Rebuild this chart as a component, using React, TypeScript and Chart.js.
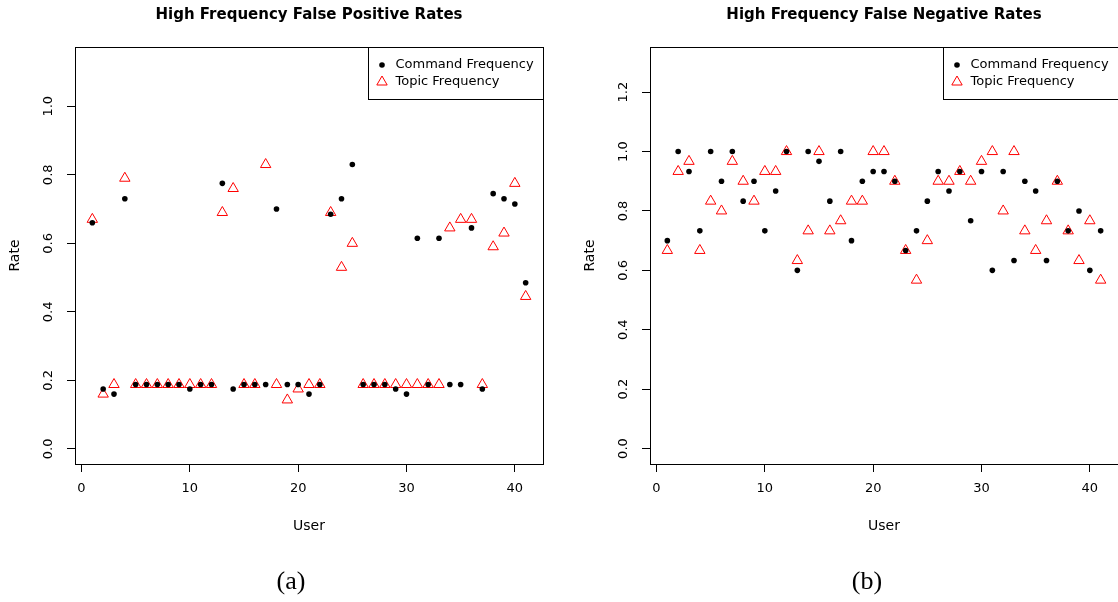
import React, { useEffect, useRef } from "react";
import { Chart, registerables } from "chart.js";

Chart.register(...registerables);

// ---------------- data ----------------
const users = [
  1, 2, 3, 4, 5, 6, 7, 8, 9, 10, 11, 12, 13, 14, 15, 16, 17, 18, 19, 20, 21,
  22, 23, 24, 25, 26, 27, 28, 29, 30, 31, 32, 33, 34, 35, 36, 37, 38, 39, 40, 41,
];

const fpCommand = [
  0.66, 0.175, 0.16, 0.73, 0.188, 0.188, 0.188, 0.188, 0.188, 0.175,
  0.188, 0.188, 0.775, 0.175, 0.188, 0.188, 0.188, 0.7, 0.188, 0.188,
  0.16, 0.188, 0.685, 0.73, 0.83, 0.188, 0.188, 0.188, 0.175, 0.16,
  0.615, 0.188, 0.615, 0.188, 0.188, 0.645, 0.175, 0.745, 0.73, 0.715, 0.485,
];
const fpTopic = [
  0.67, 0.16, 0.188, 0.79, 0.188, 0.188, 0.188, 0.188, 0.188, 0.188,
  0.188, 0.188, 0.69, 0.76, 0.188, 0.188, 0.83, 0.188, 0.143, 0.175,
  0.188, 0.188, 0.69, 0.53, 0.6, 0.188, 0.188, 0.188, 0.188, 0.188,
  0.188, 0.188, 0.188, 0.645, 0.67, 0.67, 0.188, 0.59, 0.63, 0.775, 0.445,
];

const fnCommand = [
  0.7, 1.0, 0.933, 0.733, 1.0, 0.9, 1.0, 0.833, 0.9, 0.733,
  0.867, 1.0, 0.6, 1.0, 0.967, 0.833, 1.0, 0.7, 0.9, 0.933,
  0.933, 0.9, 0.667, 0.733, 0.833, 0.933, 0.867, 0.933, 0.767, 0.933,
  0.6, 0.933, 0.633, 0.9, 0.867, 0.633, 0.9, 0.733, 0.8, 0.6, 0.733,
];
const fnTopic = [
  0.667, 0.933, 0.967, 0.667, 0.833, 0.8, 0.967, 0.9, 0.833, 0.933,
  0.933, 1.0, 0.633, 0.733, 1.0, 0.733, 0.767, 0.833, 0.833, 1.0,
  1.0, 0.9, 0.667, 0.567, 0.7, 0.9, 0.9, 0.933, 0.9, 0.967,
  1.0, 0.8, 1.0, 0.733, 0.667, 0.767, 0.9, 0.733, 0.633, 0.767, 0.567,
];

const xTicks = [0, 10, 20, 30, 40];
const fpYTicks = [0, 0.2, 0.4, 0.6, 0.8, 1.0];
const fnYTicks = [0, 0.2, 0.4, 0.6, 0.8, 1.0, 1.2];
const seriesLabels = ["Command Frequency", "Topic Frequency"];
const titles = [
  "High Frequency False Positive Rates",
  "High Frequency False Negative Rates",
];
const captions = ["(a)", "(b)"];
const xTitle = "User";
const yTitle = "Rate";

// ---------------- styling ----------------
const FONT = "'DejaVu Sans', 'Liberation Sans', Arial, sans-serif";
const CANVAS_H = 602;
const PLOT_TOP = 47;
const PLOT_BOTTOM = 464;

function alignPx(v: number) {
  return Math.round(v - 0.5) + 0.5;
}

const rBoxPlugin = {
  id: "rBox",
  afterDraw(chart: any) {
    const { ctx, chartArea: a } = chart;
    ctx.save();
    ctx.strokeStyle = "#000";
    ctx.lineWidth = 1;
    const l = alignPx(a.left);
    const r = alignPx(a.right);
    const t = alignPx(a.top);
    const b = alignPx(a.bottom);
    ctx.strokeRect(l, t, r - l, b - t);

    // R-style legend in the top-right corner
    const lw = 175;
    const lh = 52;
    const left = r - lw;
    ctx.fillStyle = "#fff";
    ctx.fillRect(left, t, lw, lh);
    ctx.strokeRect(left, t, lw, lh);
    ctx.font = `13px ${FONT}`;
    ctx.textBaseline = "middle";
    ctx.textAlign = "left";
    chart.data.datasets.forEach((ds: any, i: number) => {
      const y = t + 17.5 + i * 17;
      const sx = left + 13.5;
      ctx.beginPath();
      if (ds.pointStyle === "circle") {
        ctx.arc(sx, y, ds.pointRadius, 0, Math.PI * 2);
        ctx.fillStyle = ds.backgroundColor;
        ctx.fill();
      } else {
        const rr = ds.pointRadius;
        ctx.moveTo(sx, y - rr);
        ctx.lineTo(sx + rr * Math.sin((2 * Math.PI) / 3), y + rr / 2);
        ctx.lineTo(sx - rr * Math.sin((2 * Math.PI) / 3), y + rr / 2);
        ctx.closePath();
        ctx.strokeStyle = ds.borderColor;
        ctx.lineWidth = ds.borderWidth;
        ctx.stroke();
      }
      ctx.fillStyle = "#000";
      ctx.fillText(ds.label, left + 27, y);
    });
    ctx.restore();
  },
};

type PanelLayout = {
  yWidth: number;
  padRight: number;
  yTitleOffset: number;
  yMin: number;
  yMax: number;
  yTicks: number[];
};

function makeConfig(
  title: string,
  cmd: number[],
  topic: number[],
  lay: PanelLayout
): any {
  return {
    type: "scatter",
    data: {
      datasets: [
        {
          label: seriesLabels[0],
          data: users.map((u, i) => ({ x: u, y: cmd[i] })),
          pointStyle: "circle",
          pointRadius: 2.8,
          backgroundColor: "#000000",
          borderColor: "#000000",
          borderWidth: 0,
        },
        {
          label: seriesLabels[1],
          data: users.map((u, i) => ({ x: u, y: topic[i] })),
          pointStyle: "triangle",
          pointRadius: 6,
          backgroundColor: "rgba(0,0,0,0)",
          borderColor: "#FF0000",
          borderWidth: 1,
        },
      ],
    },
    options: {
      responsive: false,
      maintainAspectRatio: false,
      animation: false,
      events: [],
      layout: { padding: { left: 0, right: lay.padRight, top: 0, bottom: 0 } },
      plugins: {
        legend: { display: false },
        tooltip: { enabled: false },
        title: {
          display: true,
          text: title,
          fullSize: false,
          color: "#000",
          font: { family: FONT, size: 15, weight: "bold" },
          padding: { top: 6, bottom: PLOT_TOP - 6 - 18 },
        },
      },
      scales: {
        x: {
          type: "linear",
          position: "bottom",
          min: -0.6,
          max: 42.6,
          bounds: "data",
          afterBuildTicks: (s: any) => {
            s.ticks = xTicks.map((v) => ({ value: v }));
          },
          afterFit: (s: any) => {
            s.height = CANVAS_H - PLOT_BOTTOM;
          },
          grid: {
            display: true,
            drawOnChartArea: false,
            drawTicks: true,
            tickLength: 8,
            tickColor: "#000",
            tickWidth: 1,
            color: "#000",
          },
          border: { display: true, color: "#000", width: 1 },
          ticks: {
            autoSkip: false,
            maxRotation: 0,
            minRotation: 0,
            padding: 9,
            color: "#000",
            font: { family: FONT, size: 13 },
            callback: (v: any) => String(v),
          },
          title: {
            display: true,
            text: xTitle,
            color: "#000",
            font: { family: FONT, size: 14 },
            padding: { top: 0, bottom: CANVAS_H - 526 - 8.4 },
          },
        },
        y: {
          type: "linear",
          position: "left",
          min: lay.yMin,
          max: lay.yMax,
          bounds: "data",
          afterBuildTicks: (s: any) => {
            s.ticks = lay.yTicks.map((v) => ({ value: v }));
          },
          afterFit: (s: any) => {
            s.width = lay.yWidth;
          },
          grid: {
            display: true,
            drawOnChartArea: false,
            drawTicks: true,
            tickLength: 8,
            tickColor: "#000",
            tickWidth: 1,
            color: "#000",
          },
          border: { display: true, color: "#000", width: 1 },
          ticks: {
            autoSkip: false,
            minRotation: 90,
            maxRotation: 90,
            crossAlign: "center",
            padding: 8,
            color: "#000",
            font: { family: FONT, size: 13 },
            callback: (v: any) => Number(v).toFixed(1),
          },
          title: {
            display: true,
            text: yTitle,
            color: "#000",
            font: { family: FONT, size: 14 },
            padding: { top: lay.yTitleOffset - 8.4, bottom: 0 },
          },
        },
      },
    },
    plugins: [rBoxPlugin],
  };
}

function Panel(props: {
  left: number;
  width: number;
  title: string;
  cmd: number[];
  topic: number[];
  lay: PanelLayout;
}) {
  const ref = useRef<HTMLCanvasElement | null>(null);
  useEffect(() => {
    if (!ref.current) return;
    const chart = new Chart(
      ref.current,
      makeConfig(props.title, props.cmd, props.topic, props.lay)
    );
    return () => chart.destroy();
  }, []);
  return (
    <canvas
      ref={ref}
      width={props.width}
      height={CANVAS_H}
      style={{
        position: "absolute",
        left: props.left,
        top: 0,
        width: props.width,
        height: CANVAS_H,
      }}
    />
  );
}

export default function App() {
  const captionStyle = (cx: number): React.CSSProperties => ({
    position: "absolute",
    left: cx - 50,
    top: 566,
    width: 100,
    height: 30,
    lineHeight: "30px",
    textAlign: "center",
    fontFamily: "'Liberation Serif', 'DejaVu Serif', serif",
    fontSize: 26,
    color: "#000",
  });
  return (
    <div
      style={{
        position: "absolute",
        left: 0,
        top: 0,
        width: 1118,
        height: 602,
        overflow: "hidden",
        background: "#fff",
      }}
    >
      <Panel
        left={0}
        width={559}
        title={titles[0]}
        cmd={fpCommand}
        topic={fpTopic}
        lay={{
          yWidth: 75,
          padRight: 559 - 543,
          yTitleOffset: 15,
          yMin: -0.044,
          yMax: 1.173,
          yTicks: fpYTicks,
        }}
      />
      <Panel
        left={559}
        width={566}
        title={titles[1]}
        cmd={fnCommand}
        topic={fnTopic}
        lay={{
          yWidth: 650 - 559,
          padRight: 566 - (1118.5 - 559),
          yTitleOffset: 590 - 559,
          yMin: -0.052,
          yMax: 1.352,
          yTicks: fnYTicks,
        }}
      />
      <div style={captionStyle(291)}>{captions[0]}</div>
      <div style={captionStyle(867)}>{captions[1]}</div>
    </div>
  );
}
